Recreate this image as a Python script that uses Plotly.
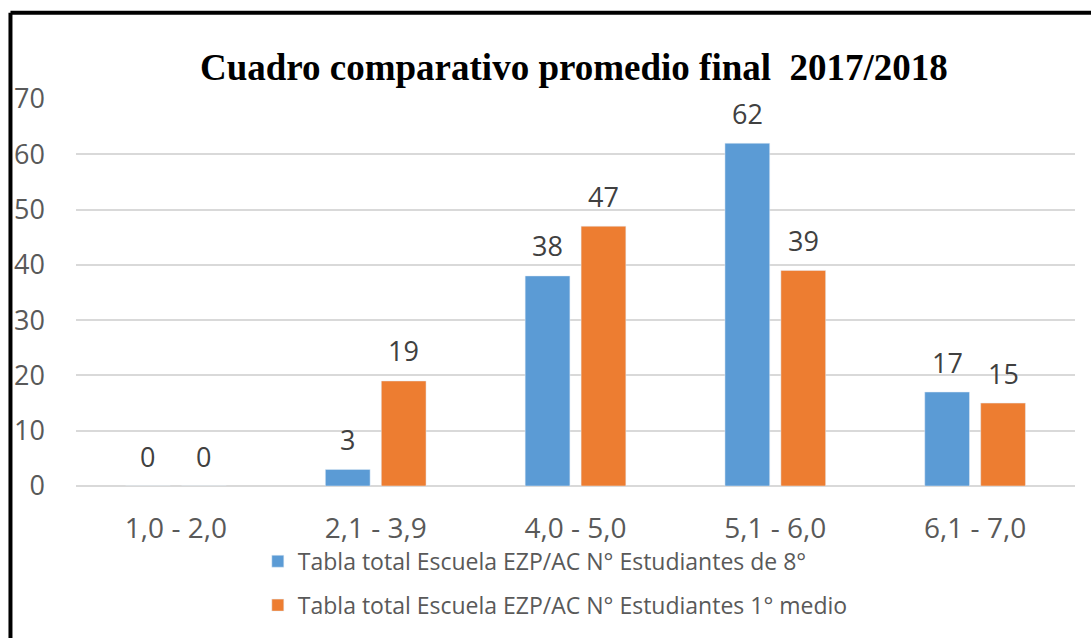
import plotly.graph_objects as go

categories = ["1,0 - 2,0", "2,1 - 3,9", "4,0 - 5,0", "5,1 - 6,0", "6,1 - 7,0"]
serie_8 = [0, 3, 38, 62, 17]
serie_1m = [0, 19, 47, 39, 15]
name_8 = "Tabla total Escuela EZP/AC N° Estudiantes de 8°"
name_1m = "Tabla total Escuela EZP/AC N° Estudiantes 1° medio"
title = "<b>Cuadro comparativo promedio final  2017/2018</b>"
yticks = [0, 10, 20, 30, 40, 50, 60, 70]

BLUE = "#5B9BD5"
ORANGE = "#ED7D31"
FONT = "Open Sans"
GREY = "#595959"

fig = go.Figure()
fig.add_trace(go.Bar(x=categories, y=serie_8, name=name_8, marker_color=BLUE,
                     legendgroup="a"))
fig.add_trace(go.Bar(x=categories, y=serie_1m, name=name_1m, marker_color=ORANGE,
                     legendgroup="b"))

# data labels
for vals, shift in ((serie_8, -28), (serie_1m, 28)):
    for c, v in zip(categories, vals):
        fig.add_annotation(x=c, y=v, text=str(v), showarrow=False, xshift=shift,
                           yshift=30, yanchor="middle",
                           font=dict(family=FONT, size=27, color="#404040"))

# black frame (top and left edges)
fig.add_shape(type="line", xref="paper", yref="paper", x0=-0.0656, x1=1.02,
              y0=1.2229, y1=1.2229, line=dict(color="black", width=4))
fig.add_shape(type="line", xref="paper", yref="paper", x0=-0.0656, x1=-0.0656,
              y0=1.2229, y1=-0.4, line=dict(color="black", width=4))

fig.update_layout(
    width=1091, height=638, autosize=False,
    margin=dict(l=76, r=16, t=99, b=151),
    paper_bgcolor="white", plot_bgcolor="white",
    barmode="group", bargap=0.44, bargroupgap=0.2,
    title=dict(text=title, x=0.526, xanchor="center", xref="container",
               y=0.895, yanchor="middle",
               font=dict(family="Liberation Serif", size=37, color="black")),
    showlegend=True,
    legend=dict(x=0.182, xanchor="left", y=-0.136, yanchor="top", orientation="v",
                font=dict(family=FONT, size=23, color=GREY), tracegroupgap=11,
                itemwidth=30, bgcolor="rgba(0,0,0,0)"),
    font=dict(family=FONT, color=GREY),
)
fig.update_xaxes(tickfont=dict(family=FONT, size=28, color=GREY), showline=False,
                 ticks="", ticklabelstandoff=23)
fig.update_yaxes(range=[0, 70], tickvals=yticks, showgrid=True, gridcolor="#D9D9D9",
                 gridwidth=1.5, zeroline=True, zerolinecolor="#D9D9D9", zerolinewidth=1.5,
                 tickfont=dict(family=FONT, size=27, color=GREY), ticks="",
                 ticklabelstandoff=30)

fig.write_html("out.html", config={"displayModeBar": False, "responsive": False},
               post_script="document.body.style.margin='0';"
                           "document.body.style.overflow='hidden';"
                           "document.documentElement.style.overflow='hidden';")
